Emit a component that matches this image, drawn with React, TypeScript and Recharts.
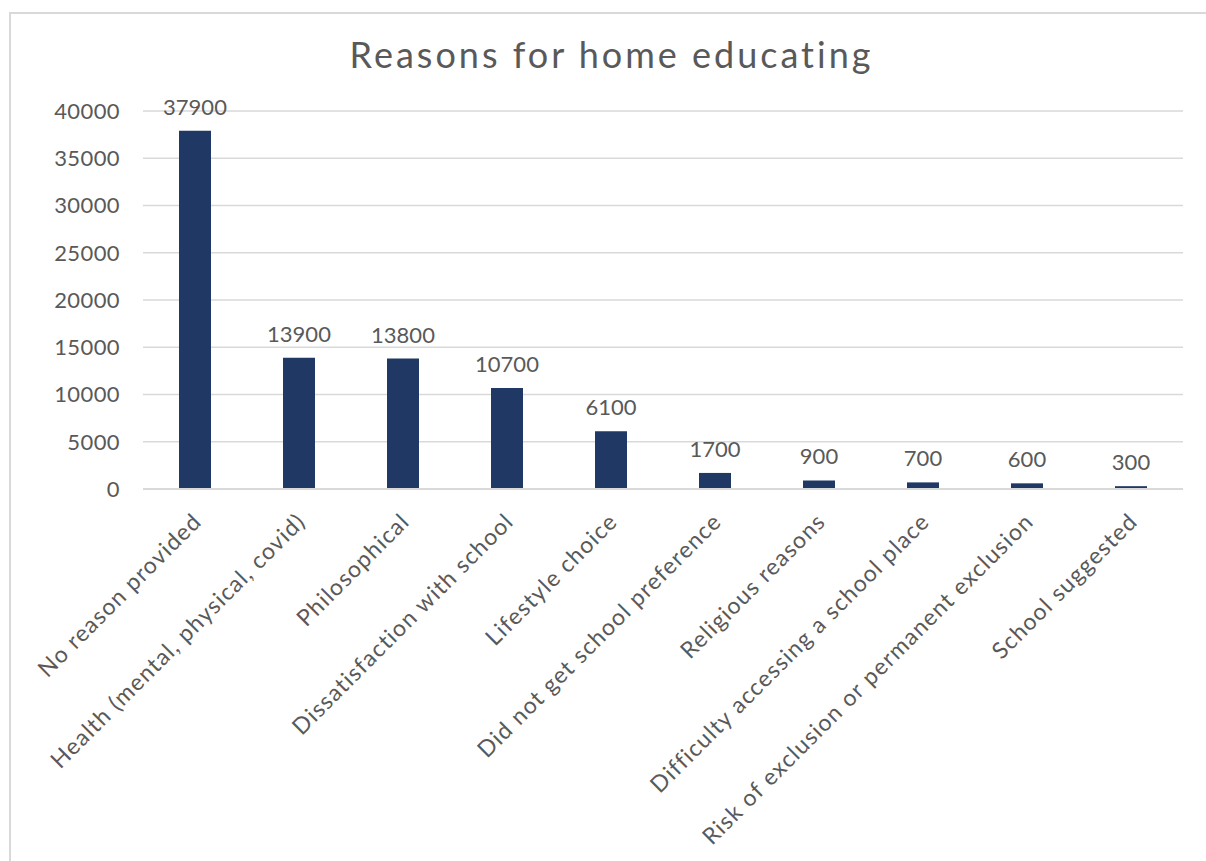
import { BarChart, Bar, XAxis, YAxis, CartesianGrid, LabelList } from 'recharts';

// values
const reasons = [
  'No reason provided',
  'Health (mental, physical, covid)',
  'Philosophical',
  'Dissatisfaction with school',
  'Lifestyle choice',
  'Did not get school preference',
  'Religious reasons',
  'Difficulty accessing a school place',
  'Risk of exclusion or permanent exclusion',
  'School suggested',
];
const counts = [37900, 13900, 13800, 10700, 6100, 1700, 900, 700, 600, 300];
const yTicks = [0, 5000, 10000, 15000, 20000, 25000, 30000, 35000, 40000];

const data = reasons.map((reason, i) => ({ reason, count: counts[i] }));

const FONT = 'Lato, "DejaVu Sans", sans-serif';
const TEXT = '#595959';

const CategoryTick = (props: any) => {
  const { x, y, payload } = props;
  return (
    <g transform={`translate(${x + 8},${y + 26})`}>
      <text
        transform="rotate(-45)"
        textAnchor="end"
        fill={TEXT}
        fontSize={23}
        letterSpacing={1.2}
        fontFamily={FONT}
      >
        {payload.value}
      </text>
    </g>
  );
};

export default function App() {
  return (
    <div
      style={{
        position: 'absolute',
        left: 0,
        top: 0,
        width: 1206,
        height: 861,
        overflow: 'hidden',
        background: '#fff',
      }}
    >
      <div
        style={{
          position: 'absolute',
          left: 9,
          top: 12,
          width: 1220,
          height: 900,
          border: '2px solid #d9d9d9',
        }}
      />
      <div
        style={{
          position: 'absolute',
          left: 0,
          width: 1223,
          top: 32,
          textAlign: 'center',
          fontFamily: FONT,
          fontSize: 36,
          color: TEXT,
          letterSpacing: 3,
        }}
      >
        Reasons for home educating
      </div>
      <div style={{ position: 'absolute', left: 0, top: 0 }}>
        <BarChart
          width={1206}
          height={861}
          data={data}
          margin={{ top: 111, right: 23, bottom: 0, left: 0 }}
        >
          <CartesianGrid vertical={false} stroke="#d9d9d9" strokeWidth={1.5} />
          <XAxis
            dataKey="reason"
            height={372}
            interval={0}
            tickLine={false}
            axisLine={{ stroke: '#d9d9d9', strokeWidth: 2 }}
            tick={<CategoryTick />}
          />
          <YAxis
            width={143}
            domain={[0, 40000]}
            ticks={yTicks}
            axisLine={false}
            tickLine={false}
            tickSize={0}
            tickMargin={23}
            tick={{ fill: TEXT, fontSize: 22, fontFamily: FONT, letterSpacing: 0.4 }}
          />
          <Bar dataKey="count" fill="#203864" barSize={32} isAnimationActive={false}>
            <LabelList
              dataKey="count"
              position="top"
              offset={16}
              fill={TEXT}
              fontSize={22}
              fontFamily={FONT}
            />
          </Bar>
        </BarChart>
      </div>
    </div>
  );
}
